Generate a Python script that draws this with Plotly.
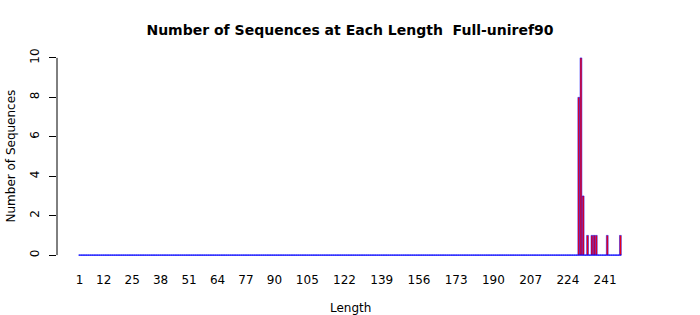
import plotly.graph_objects as go

# ---- data ----
lengths = list(range(1, 249))
nonzero_lengths = [229, 230, 231, 233, 235, 236, 237, 242, 248]
nonzero_counts = [8, 10, 3, 1, 1, 1, 1, 1, 1]
x_tick_labels = [1, 12, 25, 38, 51, 64, 77, 90, 105, 122, 139, 156, 173, 190, 207, 224, 241]
y_ticks = [0, 2, 4, 6, 8, 10]

lookup = dict(zip(nonzero_lengths, nonzero_counts))
counts = [lookup.get(L, 0) for L in lengths]

FONT = "DejaVu Sans"
n = len(lengths)
# R barplot geometry: width 1, space 0.2, 4% axis extension
span = 1.2 * n - 0.2
pad = 0.04 * span
x_left = (0.7 - pad) / 1.2 + (lengths[0] - 1)
x_right = (1.2 * n + pad + 0.5) / 1.2 + (lengths[0] - 1)
ymax = max(counts)
y_lo, y_hi = -0.04 * ymax, ymax * 1.04
half = 0.5 / 1.2

fig = go.Figure()
# zero-height bar borders (baseline)
fig.add_trace(go.Scatter(
    x=[lengths[0] - half, lengths[-1] + half], y=[0, 0], mode="lines",
    line=dict(color="blue", width=1), hoverinfo="skip", showlegend=False))
fig.add_trace(go.Bar(
    x=lengths, y=counts,
    marker=dict(color="red", line=dict(color="blue", width=0.5)),
    showlegend=False))

fig.update_layout(
    width=700, height=315,
    margin=dict(l=57, r=57, t=50, b=52),
    plot_bgcolor="white", paper_bgcolor="white",
    bargap=1 - 1 / 1.2,
    font=dict(family=FONT, size=12, color="black"),
    title=dict(text="<b>Number of Sequences at Each Length  Full-uniref90</b>",
               x=0.5, xanchor="center", y=1 - 30 / 315, yanchor="middle",
               yref="container", font=dict(family=FONT, size=14, color="black")),
    xaxis=dict(range=[x_left, x_right], tickmode="array", tickvals=x_tick_labels,
               ticktext=[str(v) for v in x_tick_labels], ticks="", showline=False,
               showgrid=False, zeroline=False, ticklabelstandoff=8,
               tickfont=dict(family=FONT, size=12)),
    yaxis=dict(range=[y_lo, y_hi], tickmode="array", tickvals=y_ticks,
               ticks="outside", ticklen=7, tickcolor="black", tickwidth=1,
               showline=False, showgrid=False, zeroline=False, tickangle=-90,
               ticklabelstandoff=5, tickfont=dict(family=FONT, size=12)),
    shapes=[dict(type="line", xref="paper", yref="y", x0=0, x1=0,
                 y0=y_ticks[0], y1=y_ticks[-1], line=dict(color="black", width=1))],
    annotations=[
        dict(text="Length", xref="paper", yref="paper", x=0.5, y=0, yshift=-45,
             showarrow=False, xanchor="center", yanchor="middle",
             font=dict(family=FONT, size=12)),
        dict(text="Number of Sequences", xref="paper", yref="paper", x=0, y=0.5,
             xshift=-47, textangle=-90, showarrow=False, xanchor="center",
             yanchor="middle", font=dict(family=FONT, size=12)),
    ],
)

fig.write_html("out.html")
